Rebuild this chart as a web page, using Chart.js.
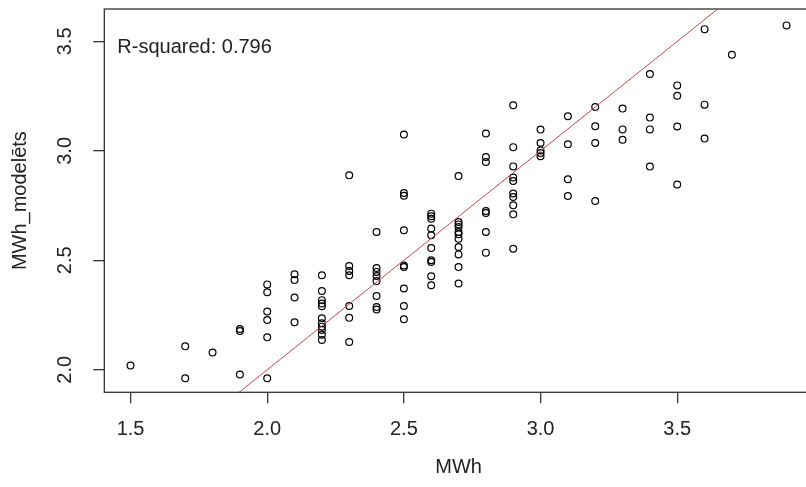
<!DOCTYPE html>
<html>
<head>
<meta charset="utf-8">
<script src="https://cdn.jsdelivr.net/npm/chart.js@4/dist/chart.umd.min.js"></script>
<style>
  html, body { margin: 0; padding: 0; background: #fff; overflow: hidden; }
  #outer { width: 806px; height: 487px; overflow: hidden; position: relative; }
  #inner { width: 818px; height: 487px; position: absolute; left: 0; top: 0; }
  canvas { display: block; }
</style>
</head>
<body>
<div id="outer"><div id="inner"><canvas id="c" width="818" height="487" style="width:818px;height:487px"></canvas></div></div>
<script>
// ---- data ----
const mwh = [
  1.5,
  1.7, 1.7,
  1.8,
  1.9, 1.9, 1.9,
  2.0, 2.0, 2.0, 2.0, 2.0, 2.0,
  2.1, 2.1, 2.1, 2.1,
  2.2, 2.2, 2.2, 2.2, 2.2, 2.2, 2.2, 2.2, 2.2, 2.2, 2.2,
  2.3, 2.3, 2.3, 2.3, 2.3, 2.3, 2.3,
  2.4, 2.4, 2.4, 2.4, 2.4, 2.4, 2.4, 2.4,
  2.5, 2.5, 2.5, 2.5, 2.5, 2.5, 2.5, 2.5, 2.5,
  2.6, 2.6, 2.6, 2.6, 2.6, 2.6, 2.6, 2.6, 2.6, 2.6,
  2.7, 2.7, 2.7, 2.7, 2.7, 2.7, 2.7, 2.7, 2.7, 2.7, 2.7,
  2.8, 2.8, 2.8, 2.8, 2.8, 2.8, 2.8,
  2.9, 2.9, 2.9, 2.9, 2.9, 2.9, 2.9, 2.9, 2.9, 2.9,
  3.0, 3.0, 3.0, 3.0, 3.0,
  3.1, 3.1, 3.1, 3.1,
  3.2, 3.2, 3.2, 3.2,
  3.3, 3.3, 3.3,
  3.4, 3.4, 3.4, 3.4,
  3.5, 3.5, 3.5, 3.5,
  3.6, 3.6, 3.6,
  3.7,
  3.9
];
const mwhModeled = [
  2.019,
  2.107, 1.961,
  2.079,
  2.186, 2.177, 1.978,
  2.390, 2.354, 2.266, 2.227, 2.148, 1.961,
  2.436, 2.410, 2.330, 2.217,
  2.432, 2.360, 2.318, 2.303, 2.290, 2.235, 2.212, 2.197, 2.182, 2.160, 2.136,
  2.888, 2.474, 2.451, 2.432, 2.291, 2.237, 2.127,
  2.629, 2.465, 2.447, 2.428, 2.405, 2.337, 2.287, 2.275,
  3.075, 2.807, 2.795, 2.637, 2.476, 2.469, 2.371, 2.291, 2.231,
  2.713, 2.701, 2.690, 2.645, 2.614, 2.556, 2.500, 2.492, 2.427, 2.386,
  2.885, 2.675, 2.664, 2.652, 2.629, 2.619, 2.599, 2.561, 2.527, 2.469, 2.394,
  3.079, 2.972, 2.949, 2.725, 2.716, 2.629, 2.535,
  3.208, 3.017, 2.929, 2.878, 2.862, 2.805, 2.789, 2.751, 2.710, 2.553,
  3.097, 3.036, 3.002, 2.990, 2.975,
  3.158, 3.030, 2.870, 2.794,
  3.200, 3.112, 3.036, 2.771,
  3.193, 3.098, 3.051,
  3.351, 3.152, 3.098, 2.928,
  3.299, 3.252, 3.111, 2.846,
  3.556, 3.211, 3.056,
  3.439,
  3.573
];
// reference line y = x (abline 0,1)
const refLineX = [1.3, 4.1];
const refLineY = [1.3, 4.1];
const xTicks = [1.5, 2.0, 2.5, 3.0, 3.5];
const yTicks = [2.0, 2.5, 3.0, 3.5];
const xTitle = 'MWh';
const yTitle = 'MWh_modelēts';
const annotationText = 'R-squared: 0.796';

// ---- chart ----
const FONT = 'Liberation Sans, Arial, sans-serif';
const TEXT = '#222';
const AXIS = '#333';

const points = mwh.map((x, i) => ({ x: x, y: mwhModeled[i] }));
const line = refLineX.map((x, i) => ({ x: x, y: refLineY[i] }));

const boxPlugin = {
  id: 'box',
  afterDraw(chart) {
    const { ctx, chartArea: a } = chart;
    ctx.save();
    ctx.strokeStyle = AXIS;
    ctx.lineWidth = 1.3;
    ctx.strokeRect(a.left, a.top, a.right - a.left, a.bottom - a.top);
    ctx.fillStyle = TEXT;
    ctx.font = '20px ' + FONT;
    ctx.textBaseline = 'alphabetic';
    ctx.textAlign = 'left';
    ctx.fillText(annotationText, a.left + 13, a.top + 44);
    ctx.restore();
  }
};

new Chart(document.getElementById('c'), {
  type: 'scatter',
  data: {
    datasets: [
      {
        type: 'scatter',
        data: points,
        pointStyle: 'circle',
        pointRadius: 3.4,
        pointBorderWidth: 1.2,
        borderColor: '#000',
        backgroundColor: 'rgba(0,0,0,0)',
        order: 2
      },
      {
        type: 'line',
        data: line,
        borderColor: 'rgb(200,70,70)',
        borderWidth: 1,
        pointRadius: 0,
        fill: false,
        order: 1
      }
    ]
  },
  options: {
    responsive: false,
    maintainAspectRatio: false,
    animation: false,
    devicePixelRatio: 1,
    layout: { padding: { left: 0, right: 1, top: 9, bottom: 0 } },
    plugins: { legend: { display: false }, tooltip: { enabled: false } },
    scales: {
      x: {
        type: 'linear',
        min: 1.404,
        max: 3.996,
        afterFit(s) { s.height = 94.7; s.paddingLeft = 0; s.paddingRight = 0; },
        afterBuildTicks(s) { s.ticks = xTicks.map(v => ({ value: v })); },
        grid: { drawOnChartArea: false, drawTicks: true, tickLength: 11, color: AXIS, lineWidth: 1.3 },
        border: { display: false },
        ticks: {
          padding: 14,
          color: TEXT,
          font: { family: FONT, size: 20 },
          maxRotation: 0,
          autoSkip: false,
          callback: v => Number(v).toFixed(1)
        },
        title: {
          display: true,
          text: xTitle,
          color: TEXT,
          font: { family: FONT, size: 20 },
          padding: { top: 0, bottom: 8 }
        }
      },
      y: {
        type: 'linear',
        min: 1.897,
        max: 3.648,
        afterFit(s) { s.width = 104.3; s.paddingTop = 0; s.paddingBottom = 0; },
        afterBuildTicks(s) { s.ticks = yTicks.map(v => ({ value: v })); },
        grid: { drawOnChartArea: false, drawTicks: true, tickLength: 11, color: AXIS, lineWidth: 1.3 },
        border: { display: false },
        ticks: {
          padding: 14,
          color: TEXT,
          font: { family: FONT, size: 20 },
          minRotation: 90,
          maxRotation: 90,
          crossAlign: 'center',
          autoSkip: false,
          callback: v => Number(v).toFixed(1)
        },
        title: {
          display: true,
          text: yTitle,
          color: TEXT,
          font: { family: FONT, size: 20 },
          padding: { top: 8, bottom: 0 }
        }
      }
    }
  },
  plugins: [boxPlugin]
});
</script>
</body>
</html>
